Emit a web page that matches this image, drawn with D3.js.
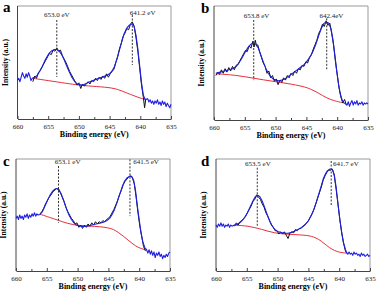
<!DOCTYPE html>
<html>
<head>
<meta charset="utf-8">
<script src="https://cdn.jsdelivr.net/npm/d3@7"></script>
<style>
body { margin: 0; background: #fff; }
text { font-family: "Liberation Serif", "Times New Roman", serif; }
</style>
</head>
<body>
<script>
var width = 376;
var height = 292;

// --- data (binding energy eV, intensity a.u.) ---
var ticksE = [660, 655, 650, 645, 640, 635];
var minorE = [657.5, 652.5, 647.5, 642.5, 637.5];

var blueA = [[660,34],[659.8,36],[659.6,33],[659.4,37],[659.2,41],[659,38],[658.8,36],[658.6,40],[658.4,37],[658.2,41],[658,38],[657.8,34],[657.6,36],
  [657.2,37],[656.8,38.5],[656.4,42],[656,46],[655.6,51],[655.2,55],[654.8,58.5],[654.4,60.5],[654,61.5],[653.6,61.5],[653.2,60],[652.8,57],[652.4,52.5],[652,47],[651.6,42],[651.2,37.5],[650.8,34],[650.4,31.5],[650,30.5],[649.6,30],[649.2,30.5],[648.8,31.5],[648.4,32.5],[648,33.5],[647.5,34.5],[647,35.5],[646.5,36.5],[646,37.5],[645.5,38.5],[645,40],[644.6,42.5],[644.2,46.5],[643.8,53],[643.4,61],[643,69],[642.6,76],[642.2,80.5],[641.8,83],[641.4,84],[641,82],[640.7,74],[640.4,62],[640.1,47],[639.8,32],[639.5,21],[639.2,17],
  [638.8,18],[638.6,15],[638.4,17],[638.2,14],[638,16],[637.8,13],[637.6,16],[637.4,14],[637.2,17],[637,13],[636.8,15],[636.6,12],[636.4,16],[636.2,13],[636,15],[635.8,11],[635.6,14],[635.4,12],[635.2,10],[635,13]];
var blackA = [[657.5,33],[657.2,38],[656.9,36],[656.6,41],[656.3,43],[656,46],[655.7,49],[655.4,52],[655.1,55],[654.8,58],[654.5,57],[654.2,61],[653.9,60],[653.6,63],[653.3,60],[653,61],[652.7,56],[652.4,53],[652.1,50],[651.8,46],[651.5,42],[651.2,39],[650.9,36],[650.6,33],[650.3,30],[650,32],[649.7,27],[649.4,31],[649.1,29],[648.8,31],[648.5,33],[648.2,31],[647.9,34],[647.6,33],[647.3,36],[647,34],[646.7,37],[646.4,35],[646.1,38],[645.8,36],[645.5,40],[645.2,37],[644.9,40],[644.6,42],[644.3,44],[644,50],[643.7,55],[643.4,62],[643.1,67],[642.8,73],[642.5,76],[642.2,80],[641.9,79],[641.6,84],[641.3,86],[641,82],[640.7,72],[640.4,60],[640.1,45],[639.8,30],[639.5,19],[639.3,10],[639.1,18]];
var redA = [[657.5,36],[655,34],[652,31.5],[650,30],[648,29],[645,28],[643.5,26],[642.2,23],[641,20.5],[640,18.5],[639.3,17.5]];

var blueB = [[659.7,41],[659,42],[658,43.5],[657,45],[656.4,47],[656,49.5],[655.5,54],[655,59],[654.5,63.5],[654,66.5],[653.6,67.5],[653.2,66.5],[652.8,63],[652.4,57],[652,51],[651.6,45.5],[651.2,41],[650.8,38],[650.4,36],[650,35],[649.5,34.5],[649,35],[648.5,36],[648,38],[647.5,40],[647,42],[646.5,44],[646,46],[645.5,48],[645,51],[644.5,54.5],[644,59.5],[643.5,66],[643,74],[642.6,80],[642.2,84.5],[641.8,86],[641.4,85],[641,80],[640.7,71],[640.4,58],[640.1,44],[639.8,32],[639.5,23],[639.2,17.5],[638.9,15],[638.6,14],
  [638.4,13],[638.2,16],[638,12],[637.8,15],[637.6,17],[637.4,13],[637.2,16],[637,14],[636.8,17],[636.6,13],[636.4,15],[636.2,14],[636,16],[635.8,13],[635.6,15],[635.4,14],[635.2,15],[635,14]];
var blackB = [[659.7,39],[659.4,42],[659.1,40],[658.8,44],[658.5,41],[658.2,45],[657.9,42],[657.6,46],[657.3,43],[657,47],[656.7,44],[656.4,48],[656.1,49],[655.8,52],[655.5,55],[655.2,58],[654.9,61],[654.6,60],[654.3,65],[654,63],[653.7,69],[653.5,64],[653.3,70],[653.1,65],[652.9,66],[652.6,60],[652.3,55],[652,50],[651.7,47],[651.4,41],[651.1,43],[650.8,37],[650.5,39],[650.2,34],[649.9,36],[649.6,31],[649.3,35],[649,33],[648.7,37],[648.4,35],[648.1,39],[647.8,37],[647.5,41],[647.2,39],[646.9,43],[646.6,41],[646.3,45],[646,44],[645.7,48],[645.4,47],[645.1,51],[644.8,50],[644.5,55],[644.2,57],[643.9,62],[643.6,66],[643.3,70],[643,76],[642.7,79],[642.4,84],[642.1,82],[641.8,87],[641.5,83],[641.2,85],[640.9,76],[640.6,66],[640.3,52],[640,40],[639.7,28],[639.4,20],[639.1,15],[638.8,18],[638.5,13]];
var redB = [[659.7,40.5],[656.5,39.5],[653.5,36.5],[650.5,34],[648,32],[645.5,29.5],[644.2,27],[643,23.5],[641.8,19.5],[640.5,16.8],[639,15]];

var blueC = [[660,47],[659.8,49],[659.6,46],[659.4,50],[659.2,47],[659,49],[658.8,46],[658.6,50],[658.4,48],[658.2,51],[658,47],[657.8,50],[657.6,48],[657.4,51],[657.2,49],[657,52],[656.8,49],[656.6,51],[656.4,50],
  [656.1,50.5],[655.7,53],[655.3,58],[654.9,63],[654.5,67.5],[654.1,71],[653.7,73],[653.4,73.7],[653,72.5],[652.6,68],[652.2,62],[651.8,55.5],[651.4,50],[651,46],[650.6,43],[650.2,41],[649.8,40.3],[649.3,39.8],[648.8,39.8],[648.3,40.3],[647.7,41],[647,42],[646.4,42.7],[645.8,43.5],[645.3,44.8],[644.8,47],[644.4,50.5],[644,55],[643.6,61],[643.2,68],[642.8,74.5],[642.4,80],[642,83],[641.6,84.5],[641.2,84.5],[640.9,81],[640.6,72],[640.3,58],[640,46],[639.7,34],[639.4,26],[639.1,21],[638.8,19],
  [638.6,16],[638.4,19],[638.2,15],[638,18],[637.8,14],[637.6,17],[637.4,12],[637.2,16],[637,14],[636.8,17],[636.6,13],[636.4,15],[636.2,11],[636,14],[635.8,12],[635.6,15],[635.4,13],[635.2,16],[635,17]];
var blackC = [[656.1,51],[655.8,53],[655.5,56],[655.2,60],[654.9,63],[654.6,66],[654.3,68],[654,71],[653.7,72],[653.4,74],[653.1,72],[652.8,70],[652.5,66],[652.2,62],[651.9,57],[651.6,53],[651.3,50],[651,47],[650.7,45],[650.4,42],[650.1,43],[649.8,39],[649.5,41],[649.2,38],[648.9,41],[648.6,39],[648.3,42],[648,40],[647.7,43],[647.4,41],[647.1,44],[646.8,42],[646.5,44],[646.2,43],[645.9,45],[645.6,44],[645.3,46],[645,47],[644.7,49],[644.4,52],[644.1,55],[643.8,59],[643.5,63],[643.2,68],[642.9,72],[642.6,77],[642.3,80],[642,82],[641.7,84],[641.4,85],[641.1,83],[640.8,78],[640.5,66],[640.2,52],[639.9,40],[639.6,31],[639.3,22],[639,18]];
var redC = [[656.1,50.7],[654.5,47.8],[653,45],[651.8,42.7],[650,40.5],[648,40],[646.4,39.7],[645,38.5],[644.2,37.3],[643.4,34.5],[642.6,31.3],[641.8,27.5],[641,24],[640.2,21],[639.3,19.4],[638.8,18.5]];

var blueD = [[660,41],[659.8,39],[659.6,42],[659.4,40],[659.2,43],[659,40],[658.8,42],[658.6,39],[658.4,41],[658.2,40],[658,42],[657.8,39],[657.6,41],[657.4,40],
  [657,41],[656.5,42],[656.1,43.3],[655.7,45.5],[655.3,48],[654.9,52],[654.5,56.7],[654.1,61.5],[653.7,65.7],[653.3,67.8],[652.9,66.6],[652.5,62.5],[652.1,56.7],[651.7,50.5],[651.3,44.8],[650.9,40.5],[650.5,37.3],[650,35.3],[649.4,34.3],[648.8,33.8],[648.3,33.7],[647.7,34.5],[647.2,35.8],[646.6,37.2],[646.1,38.8],[645.5,41.5],[645,44.8],[644.6,49],[644.2,53.7],[643.8,60],[643.4,67.2],[643,74.5],[642.6,82.1],[642.2,87],[641.9,89.6],[641.5,91],[641.1,90.5],[640.8,86],[640.5,75],[640.2,60],[639.9,46.3],[639.6,35],[639.3,25.4],[639,19.5],[638.8,16.4],
  [638.6,15],[638.4,17],[638.2,15],[638,16],[637.8,14],[637.6,17],[637.4,15],[637.2,16],[637,14],[636.8,15],[636.6,13],[636.4,16],[636.2,14],[636,15],[635.8,13],[635.6,14],[635.4,15],[635.2,13],[635,14]];
var blackD = [[657,40],[656.7,43],[656.4,41],[656.1,44],[655.8,45],[655.5,47],[655.2,49],[654.9,52],[654.6,55],[654.3,58],[654,62],[653.7,64],[653.4,68],[653.1,66],[652.8,64],[652.5,60],[652.2,57],[651.9,52],[651.6,49],[651.3,45],[651,41],[650.7,39],[650.4,36],[650.1,36],[649.8,33],[649.5,35],[649.2,33],[648.9,35],[648.6,32],[648.3,29],[648,34],[647.7,35],[647.4,34],[647.1,37],[646.8,36],[646.5,38],[646.2,38],[645.9,40],[645.6,41],[645.3,43],[645,45],[644.7,48],[644.4,51],[644.1,55],[643.8,60],[643.5,65],[643.2,70],[642.9,75],[642.6,81],[642.3,85],[642,88],[641.7,90],[641.4,90],[641.1,91],[640.8,85],[640.5,73],[640.2,60],[639.9,46],[639.6,34],[639.3,25],[639,18],[638.8,16]];
var redD = [[657,40.9],[654.8,40.3],[652.6,37.3],[650.5,33.7],[648.3,32.8],[645,31.9],[643.9,30],[642.9,26.9],[642,22.5],[641.2,19.4],[640.3,17.2],[639.6,16.4],[638.6,15.8]];

// peak markers: line energy, line top/bottom intensity, label text, label energy, anchor, label baseline intensity
var peaksA = [[653.6, 87.6, 37.2, "653.0 eV", 653.6, "middle", 90.7], [641.3, 92, 47.8, "641.2 eV", 641.7, "start", 91.6]];
var peaksB = [[653.55, 87.7, 35, "653.8 eV", 653.1, "middle", 89.9], [641.7, 89.2, 43.9, "642.4eV", 640.95, "middle", 89.9]];
var peaksC = [[653.1, 93.7, 43.1, "653.1 eV", 653.7, "start", 95.3], [641.5, 99.7, 49, "641.5 eV", 640.97, "start", 95.3]];
var peaksD = [[653.3, 92.2, 40.2, "653.5 eV", 653.2, "middle", 93.7], [641.3, 98.2, 58, "641.7 eV", 641.0, "start", 93.7]];

var panels = [
  {letter: "a", x0: 17.5, x1: 171, y0: 6, y1: 119, lx: 3, ly: 12, blue: blueA, black: blackA, red: redA, peaks: peaksA},
  {letter: "b", x0: 214, x1: 368, y0: 6, y1: 120, lx: 201, ly: 13, blue: blueB, black: blackB, red: redB, peaks: peaksB},
  {letter: "c", x0: 16, x1: 170, y0: 159, y1: 271, lx: 3, ly: 166, blue: blueC, black: blackC, red: redC, peaks: peaksC},
  {letter: "d", x0: 216, x1: 370, y0: 159, y1: 271, lx: 201, ly: 166, blue: blueD, black: blackD, red: redD, peaks: peaksD}
];

var svg = d3.select("body").append("svg")
    .attr("width", width)
    .attr("height", height);

panels.forEach(function(p) {
    var x = d3.scaleLinear().domain([660, 635]).range([p.x0, p.x1]);
    var y = d3.scaleLinear().domain([0, 100]).range([p.y1, p.y0]);
    var g = svg.append("g");

    // light frame top / right
    g.append("line").attr("x1", p.x0).attr("x2", p.x1).attr("y1", p.y0).attr("y2", p.y0)
        .attr("stroke", "#999").attr("stroke-width", 1);
    g.append("line").attr("x1", p.x1).attr("x2", p.x1).attr("y1", p.y0).attr("y2", p.y1)
        .attr("stroke", "#999").attr("stroke-width", 1);

    var xAxis = g.append("g")
        .attr("transform", "translate(0," + p.y1 + ")")
        .call(d3.axisBottom(x).tickValues(ticksE).tickSizeInner(-3).tickSizeOuter(0).tickPadding(5));
    xAxis.select(".domain").attr("stroke", "#444");
    xAxis.selectAll(".tick line").attr("stroke", "#444");
    xAxis.selectAll("text").attr("font-size", 7).attr("fill", "#222")
        .attr("font-family", "Liberation Serif, serif");
    var minor = g.append("g")
        .attr("transform", "translate(0," + p.y1 + ")")
        .call(d3.axisBottom(x).tickValues(minorE).tickSizeInner(-2).tickSizeOuter(0).tickFormat(""));
    minor.select(".domain").remove();
    minor.selectAll(".tick line").attr("stroke", "#444");

    g.append("line").attr("x1", p.x0).attr("x2", p.x0).attr("y1", p.y0).attr("y2", p.y1)
        .attr("stroke", "#444").attr("stroke-width", 1);

    // curves
    var line = d3.line().x(function(d) { return x(d[0]); }).y(function(d) { return y(d[1]); });
    var smooth = d3.line().curve(d3.curveBasis).x(function(d) { return x(d[0]); }).y(function(d) { return y(d[1]); });

    g.append("path").attr("d", smooth(p.red)).attr("fill", "none")
        .attr("stroke", "#e8303c").attr("stroke-width", 1);
    g.append("path").attr("d", line(p.black)).attr("fill", "none")
        .attr("stroke", "#111").attr("stroke-width", 1);
    g.append("path").attr("d", line(p.blue)).attr("fill", "none")
        .attr("stroke", "#1f1fe0").attr("stroke-width", 1.1).attr("stroke-linejoin", "round");

    // peak markers
    p.peaks.forEach(function(k) {
        g.append("line").attr("x1", x(k[0])).attr("x2", x(k[0]))
            .attr("y1", y(k[1])).attr("y2", y(k[2]))
            .attr("stroke", "#333").attr("stroke-width", 1).attr("stroke-dasharray", "2,1.5");
        g.append("text").attr("x", x(k[4])).attr("y", y(k[6]))
            .attr("text-anchor", k[5]).attr("font-size", 7).attr("fill", "#222")
            .text(k[3]);
    });

    // titles
    g.append("text")
        .attr("x", (p.x0 + p.x1) / 2).attr("y", p.y1 + 18)
        .attr("text-anchor", "middle").attr("font-size", 8).attr("font-weight", "bold")
        .text("Binding energy (eV)");
    g.append("text")
        .attr("transform", "translate(" + (p.x0 - 10) + "," + ((p.y0 + p.y1) / 2) + ") rotate(-90)")
        .attr("text-anchor", "middle").attr("font-size", 7.5).attr("font-weight", "bold")
        .text("Intensity (a.u.)");
    g.append("text")
        .attr("x", p.lx).attr("y", p.ly)
        .attr("font-size", 15).attr("font-weight", "bold")
        .text(p.letter);
});
</script>
</body>
</html>
